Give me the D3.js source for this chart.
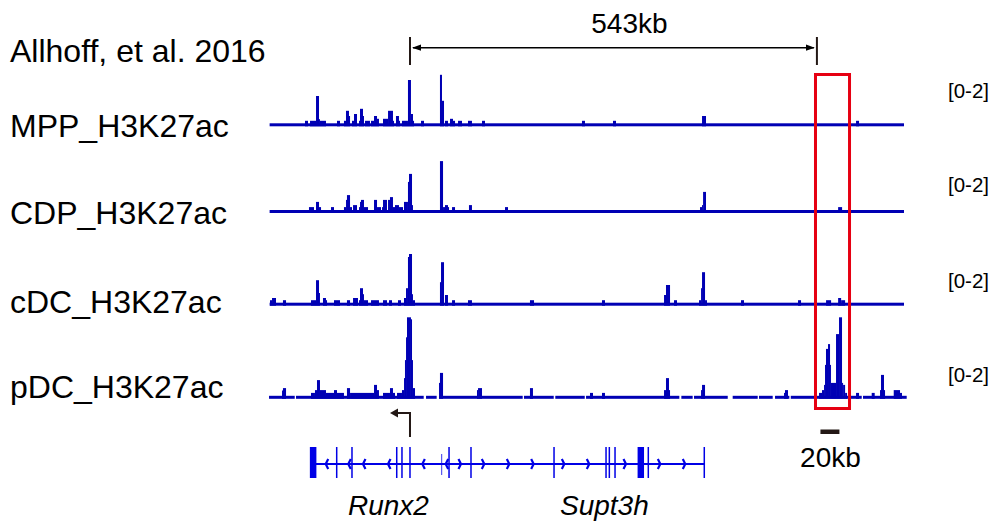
<!DOCTYPE html>
<html lang="en">
<head>
<meta charset="UTF-8">
<title>H3K27ac tracks</title>
<script src="https://d3js.org/d3.v7.min.js"></script>
<style>
body { margin: 0; background: #fff; }
text { font-family: "Liberation Sans", Arial, sans-serif; fill: #000; }
.label { font-size: 32px; }
.range { font-size: 20.5px; }
.gene-name { font-size: 28px; font-style: italic; }
</style>
</head>
<body>
<svg id="chart" width="995" height="527"></svg>
<script>
// region is measured in kb from the left edge of the browser view
var regionKb = [0, 846];

var trackNames = ["MPP_H3K27ac", "CDP_H3K27ac", "cDC_H3K27ac", "pDC_H3K27ac"];
var dataRange = [0, 2];

// bedGraph style intervals: [start kb, end kb, value]
var mpp = [
  [46.7,50.7,0.1],[53.4,61.4,0.1],[61.4,65.4,0.72],[65.4,66.7,0.14],[66.7,74.7,0.1],
  [89.4,93.4,0.1],[98.7,101.4,0.1],[101.4,105.4,0.35],[105.4,106.8,0.22],[109.4,112.1,0.1],
  [112.1,116.1,0.27],[118.8,120.1,0.1],[120.1,124.1,0.4],[124.1,125.4,0.22],[126.8,133.4,0.1],
  [134.8,138.8,0.1],[138.8,142.8,0.22],[142.8,145.4,0.15],[150.8,157.5,0.15],[157.5,164.1,0.35],
  [164.1,165.5,0.1],[168.1,172.1,0.22],[172.1,173.5,0.1],[176.1,184.1,0.1],[184.1,188.1,1.12],
  [188.1,190.8,0.27],[190.8,192.2,0.1],[201.5,205.5,0.1],[226.8,229.5,1.25],[229.5,232.2,0.6],
  [233.5,237.5,0.1],[240.2,244.2,0.15],[244.2,246.9,0.1],[250.9,256.2,0.1],[264.2,269.5,0.1],
  [282.9,286.9,0.1],[416.3,420.3,0.1],[457.7,461.7,0.1],[576.5,581.8,0.22],[782.0,786.0,0.1]
];
var cdp = [
  [52.0,58.7,0.11],[61.4,65.4,0.24],[65.4,68.1,0.11],[81.4,85.4,0.11],[98.7,101.4,0.11],
  [101.4,102.7,0.29],[102.7,106.8,0.41],[106.8,109.4,0.11],[110.8,116.1,0.16],[118.8,120.1,0.11],
  [120.1,121.4,0.24],[121.4,125.4,0.29],[125.4,130.8,0.11],[138.8,142.8,0.29],[142.8,148.1,0.11],
  [149.5,150.8,0.11],[150.8,156.1,0.29],[157.5,160.1,0.29],[160.1,164.1,0.36],[164.1,166.8,0.11],
  [166.8,172.1,0.16],[172.1,177.5,0.11],[178.8,184.1,0.24],[184.1,185.5,0.74],[185.5,189.5,0.94],
  [189.5,190.8,0.16],[226.8,230.9,1.26],[230.9,233.5,0.11],[233.5,237.5,0.16],[237.5,238.9,0.11],
  [242.9,246.9,0.11],[265.5,269.5,0.16],[313.6,317.6,0.11],[573.8,576.5,0.11],[576.5,577.9,0.16],
  [577.9,581.8,0.49],[758.1,763.4,0.11]
];
var cdc = [
  [0,2.7,0.1],[2.7,8.0,0.155],[17.3,21.4,0.1],[54.7,61.4,0.1],[61.4,65.4,0.6],[65.4,66.7,0.28],
  [70.7,74.7,0.155],[74.7,76.1,0.1],[85.4,93.4,0.1],[102.7,106.8,0.1],[110.8,117.4,0.155],
  [118.8,120.1,0.1],[120.1,124.1,0.4],[124.1,125.4,0.25],[125.4,130.8,0.1],[134.8,145.4,0.1],
  [150.8,156.1,0.1],[158.8,162.8,0.1],[170.8,174.8,0.1],[178.8,181.5,0.155],[181.5,184.1,0.4],
  [184.1,185.5,1.18],[185.5,189.5,1.255],[189.5,190.8,0.25],[190.8,193.5,0.1],[226.8,228.2,0.55],
  [228.2,232.2,1.05],[233.5,237.5,0.23],[242.9,246.9,0.1],[264.2,269.5,0.1],[346.9,352.3,0.1],
  [443.0,447.0,0.1],[525.8,528.4,0.23],[528.4,533.8,0.48],[539.1,543.1,0.1],[572.5,575.2,0.1],
  [575.2,576.5,0.4],[576.5,580.5,0.8],[580.5,583.1,0.1],[628.5,632.5,0.1],[704.6,708.6,0.1],
  [742.0,748.7,0.1],[758.1,762.1,0.155],[762.1,767.4,0.1]
];
var pdc = [
  [16.0,17.3,0.17],[17.3,21.4,0.23],[54.7,60.0,0.11],[60.0,62.7,0.18],[62.7,66.7,0.43],
  [66.7,74.7,0.18],[74.7,85.4,0.11],[85.4,89.4,0.18],[89.4,98.7,0.11],[102.7,106.8,0.23],
  [106.8,138.8,0.11],[138.8,142.8,0.31],[142.8,145.4,0.18],[150.8,160.1,0.11],[160.1,164.1,0.23],
  [164.1,166.8,0.11],[169.5,176.1,0.11],[176.1,178.8,0.18],[178.8,180.1,0.48],[180.1,181.5,0.93],
  [181.5,182.8,1.5],[182.8,188.1,2.0],[188.1,189.5,1.95],[189.5,190.8,0.93],[190.8,193.5,0.23],
  [225.5,226.8,0.36],[226.8,230.9,0.61],[276.2,277.6,0.18],[277.6,282.9,0.23],[346.9,350.9,0.23],
  [427.0,431.0,0.11],[443.0,447.0,0.11],[525.8,528.4,0.18],[528.4,532.4,0.48],[532.4,533.8,0.18],
  [575.2,576.5,0.18],[576.5,580.5,0.31],[685.9,687.2,0.11],[687.2,691.2,0.18],
  [732.6,736.6,0.11],[736.6,739.3,0.18],[739.3,740.6,0.31],[740.6,741.9,0.81],[741.9,744.6,1.21],
  [744.6,747.3,1.33],[747.3,748.6,0.81],[748.6,755.3,0.36],[755.3,759.3,1.58],[759.3,763.3,2.0],
  [763.3,764.7,0.36],[764.7,767.4,0.31],[767.4,770.0,0.11],[782.0,786.0,0.11],[802.9,806.9,0.11],
  [814.0,815.3,0.18],[815.3,819.3,0.56],[819.3,820.7,0.18],[832.3,840.7,0.18],[840.7,843.3,0.11]
];
var trackData = [mpp, cdp, cdc, pdc];

// regions with data coverage (pDC has holes)
var fullCoverage = [[-0.5, 846]];
var pdcCoverage = [
  [-1.3,33.0],[34.7,205.1],[208.2,222.4],[225.5,337.2],[338.9,378.6],[380.7,420.0],
  [421.7,546.2],[548.9,564.0],[565.8,610.8],[617.4,650.8],[652.5,670.8],[673.9,693.0],
  [694.9,789.6],[791.3,849.6]
];
var coverage = [fullCoverage, fullCoverage, fullCoverage, pdcCoverage];

// gene model (Runx2 / Supt3h)
var geneSpan = [54.2, 579.5];
var exons = [
  [54.2,60.9],[89.0,89.0],[109.4,109.4],[169.1,169.1],[176.1,176.1],[186.8,186.8],
  [238.9,238.9],[268.2,268.2],[379.0,379.0],[448.4,448.4],[452.8,452.8],[460.4,460.4],
  [491.5,498.1],[504.8,504.8],[579.5,579.5]
];
var minorMarks = [229.1];
var minusChevrons = [75.7, 105.8, 125.4, 158.8, 204.6, 235.8];
var plusChevrons = [253.5, 284.6, 318.0, 350.5, 391.4, 424.7, 473.7, 519.5, 552.8];
var geneNames = [["Runx2", 104], ["Supt3h", 387]];
var tssKb = 186.8;

var distanceKb = 543;
var scaleBarKb = 20;
var roi = [725.9, 775.3];

var svg = d3.select("#chart");
var trackColor = "#0000b4";
var geneColor = "#0000e6";
var darkInk = "#231815";

var x = d3.scaleLinear().domain(regionKb).range([270, 904]);

var baselines = [124.8, 211.5, 304.2, 397.3];
var trackHeight = 80;

svg.append("text").attr("class", "label").attr("x", 10).attr("y", 62).text("Allhoff, et al. 2016");

trackNames.forEach(function(name, i) {
  var y0 = baselines[i];
  var y = d3.scaleLinear().domain(dataRange).range([y0, y0 - trackHeight]).clamp(true);
  var g = svg.append("g").attr("class", "track");

  g.selectAll("rect.base")
    .data(coverage[i])
    .enter().append("rect")
      .attr("class", "base")
      .attr("x", function(d) { return x(d[0]); })
      .attr("width", function(d) { return x(d[1]) - x(d[0]); })
      .attr("y", y0 - 1.5)
      .attr("height", 3)
      .attr("fill", trackColor);

  g.selectAll("rect.bar")
    .data(trackData[i])
    .enter().append("rect")
      .attr("class", "bar")
      .attr("x", function(d) { return x(d[0]); })
      .attr("width", function(d) { return x(d[1]) - x(d[0]); })
      .attr("y", function(d) { return y(d[2]); })
      .attr("height", function(d) { return y0 + 1.5 - y(d[2]); })
      .attr("fill", trackColor);

  svg.append("text").attr("class", "label")
    .attr("x", 10).attr("y", [137, 224, 313, 398][i]).text(name);

  svg.append("text").attr("class", "range")
    .attr("x", 948).attr("y", [98, 192, 288, 382][i])
    .text("[" + dataRange[0] + "-" + dataRange[1] + "]");
});

// region of interest box
svg.append("rect")
  .attr("x", x(roi[0]) + 1.5).attr("y", 74.5)
  .attr("width", x(roi[1]) - x(roi[0]) - 3).attr("height", 334)
  .attr("fill", "none").attr("stroke", "#e60012").attr("stroke-width", 3);

// distance bracket
var defs = svg.append("defs");
defs.append("marker").attr("id", "head").attr("viewBox", "0 0 10 10")
  .attr("refX", 9).attr("refY", 5).attr("markerWidth", 6).attr("markerHeight", 6)
  .attr("orient", "auto-start-reverse")
  .append("path").attr("d", "M0,1.5 L10,5 L0,8.5 z").attr("fill", "#000");

var xa = x(tssKb), xb = x(tssKb + distanceKb);
[xa, xb].forEach(function(xx) {
  svg.append("line").attr("x1", xx).attr("x2", xx).attr("y1", 37).attr("y2", 65)
    .attr("stroke", darkInk).attr("stroke-width", 2);
});
svg.append("line").attr("x1", xa + 3).attr("x2", xb - 3).attr("y1", 47.7).attr("y2", 47.7)
  .attr("stroke", "#000").attr("stroke-width", 1.5)
  .attr("marker-start", "url(#head)").attr("marker-end", "url(#head)");
svg.append("text").attr("x", (xa + xb) / 2 + 16).attr("y", 33).attr("text-anchor", "middle")
  .style("font-size", "28px").text(distanceKb + "kb");

// gene track
var gy = 464;
var gene = svg.append("g").attr("class", "gene");
gene.append("line")
  .attr("x1", x(geneSpan[0])).attr("x2", x(geneSpan[1]))
  .attr("y1", gy).attr("y2", gy)
  .attr("stroke", geneColor).attr("stroke-width", 2);
gene.selectAll("rect.exon")
  .data(exons)
  .enter().append("rect")
    .attr("class", "exon")
    .attr("x", function(d) { return x(d[0]) - 0.75; })
    .attr("width", function(d) { return Math.max(1.5, x(d[1]) - x(d[0]) + 1.5); })
    .attr("y", gy - 17).attr("height", 31)
    .attr("fill", geneColor);
gene.selectAll("line.mark")
  .data(minorMarks)
  .enter().append("line")
    .attr("x1", function(d) { return x(d); }).attr("x2", function(d) { return x(d); })
    .attr("y1", gy - 10).attr("y2", gy + 11)
    .attr("stroke", geneColor).attr("stroke-width", 0.8);
gene.selectAll("path.minus")
  .data(minusChevrons)
  .enter().append("path")
    .attr("d", function(d) { var c = x(d); return "M" + (c + 1.5) + "," + (gy - 5) + "L" + (c - 1) + "," + gy + "L" + (c + 1.5) + "," + (gy + 5); })
    .attr("fill", "none").attr("stroke", geneColor).attr("stroke-width", 2.2);
gene.selectAll("path.plus")
  .data(plusChevrons)
  .enter().append("path")
    .attr("d", function(d) { var c = x(d); return "M" + (c - 1.5) + "," + (gy - 5) + "L" + (c + 1) + "," + gy + "L" + (c - 1.5) + "," + (gy + 5); })
    .attr("fill", "none").attr("stroke", geneColor).attr("stroke-width", 2.2);

gene.selectAll("text")
  .data(geneNames)
  .enter().append("text")
    .attr("class", "gene-name")
    .attr("x", function(d) { return x(d[1]); })
    .attr("y", 515)
    .text(function(d) { return d[0]; });

// TSS arrow
var tx = x(tssKb);
svg.append("path")
  .attr("d", "M" + tx + ",437 V413 H" + (tx - 14))
  .attr("fill", "none").attr("stroke", darkInk).attr("stroke-width", 2);
svg.append("path")
  .attr("d", "M" + (tx - 20) + ",413 L" + (tx - 12) + ",408.5 L" + (tx - 12) + ",417.5 z")
  .attr("fill", darkInk);

// scale bar
var sb = x(734.5);
svg.append("rect").attr("x", sb).attr("y", 429.5)
  .attr("width", x(scaleBarKb) - x(0) + 4).attr("height", 4.5).attr("fill", darkInk);
svg.append("text").attr("x", sb + 10).attr("y", 467).attr("text-anchor", "middle")
  .style("font-size", "28px").text(scaleBarKb + "kb");
</script>
</body>
</html>
